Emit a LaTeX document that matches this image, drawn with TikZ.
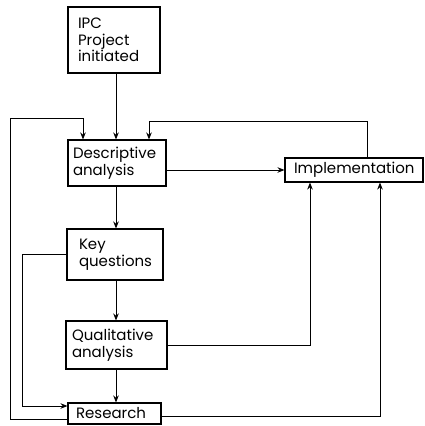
\documentclass[tikz,border=0pt]{standalone}
\usepackage{fontspec}
\setmainfont{Poppins}
\usetikzlibrary{arrows.meta,calc}
\begin{document}
\begin{tikzpicture}[x=1pt,y=-1pt,
  box/.style={draw,line width=1.1pt,inner xsep=0pt,inner ysep=0pt,align=left,font=\fontsize{15}{16.5}\selectfont},
  arr/.style={line width=0.9pt,-{Stealth[length=7pt,width=5.5pt]}},
  ln/.style={line width=0.9pt}]
\useasboundingbox (0,0) rectangle (424,426);
\node[box,minimum width=92pt,minimum height=66pt,text width=72pt] (ipc) at (114,40) {IPC\\Project\\initiated};
\node[box,minimum width=98pt,minimum height=46pt,text width=88pt] (desc) at (117,163) {Descriptive\\analysis};
\node[box,minimum width=96pt,minimum height=51pt,text width=72pt] (key) at (115,254.5) {Key\\questions};
\node[box,minimum width=101pt,minimum height=48pt,text width=89pt] (qual) at (116.5,345) {Qualitative\\analysis};
\node[box,minimum width=93pt,minimum height=21pt,text width=77pt] (res) at (114.5,413.5) {Research};
\node[box,minimum width=138pt,minimum height=24pt,text width=120pt] (impl) at (354,170) {Implementation};
\coordinate (cx) at (116,0);
\coordinate (lx) at (83,0);
\coordinate (rx) at (149,0);
\coordinate (outer) at (10,118);
\coordinate (inner) at (22,0);
\coordinate (top) at (367,121);
\coordinate (qx) at (310,0);
\coordinate (rrx) at (380,0);
% main chain
\draw[arr] (ipc.south -| cx) -- (desc.north -| cx);
\draw[arr] (desc.south -| cx) -- (key.north -| cx);
\draw[arr] (key.south -| cx) -- (qual.north -| cx);
\draw[arr] (qual.south -| cx) -- (res.north -| cx);
\draw[arr] (desc.east |- impl.west) -- (impl.west);
% feedback from implementation
\draw[arr] (impl.north -| top) |- (top -| rx) -- (desc.north -| rx);
% outer loop from research
\draw[arr] ($(res.west)+(0,5.5)$) -| (outer) -| (desc.north -| lx);
% key questions to research
\draw[arr] (key.west) -| ($(inner)+(0,406)$) -- ($(res.west)+(0,-7.5)$);
% to implementation
\draw[arr] (qual.east) -| (impl.south -| qx);
\draw[arr] ($(res.east)+(0,2.5)$) -| (impl.south -| rrx);
\end{tikzpicture}
\end{document}
